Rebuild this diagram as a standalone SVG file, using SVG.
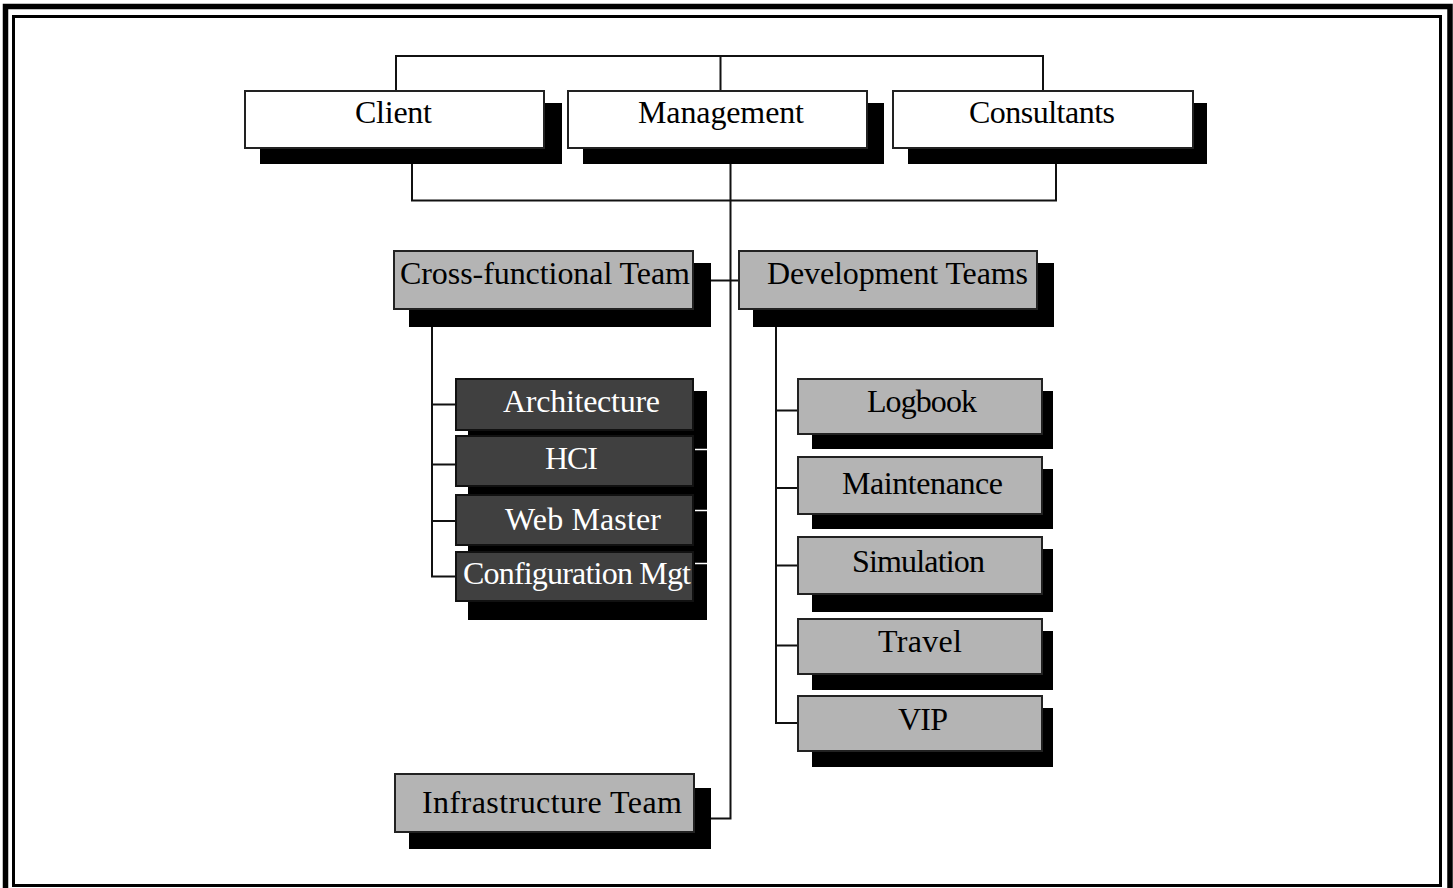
<svg xmlns="http://www.w3.org/2000/svg" width="1453" height="888" viewBox="0 0 1453 888">
<style>
.bg{fill:#ffffff}
.frame{fill:none;stroke:#000;}
.shadow{fill:#000}
.wbox{fill:#ffffff;stroke:#222;stroke-width:2}
.gbox{fill:#b4b4b4;stroke:#222;stroke-width:2}
.dbox{fill:#404040;stroke:#111;stroke-width:2}
.t{font-family:"Liberation Serif","Times New Roman",serif;font-size:32px;fill:#000}
.tw{font-family:"Liberation Serif","Times New Roman",serif;font-size:32px;fill:#fff}
.conn{fill:none;stroke:#111;stroke-width:2}
.tick{stroke:#fff;stroke-width:1.5}
</style>
<rect class="bg" x="0" y="0" width="1453" height="888"/>
<rect class="frame" x="5.5" y="6.5" width="1444.5" height="890" stroke-width="5.5"/>
<rect class="frame" x="13.5" y="16.5" width="1427" height="869" stroke-width="3"/>

<g id="connectors">
<path class="conn" d="M396,90 V56 H1043 V90 M720.5,56 V90"/>
<path class="conn" d="M412,164 V200.5 H1056 V164"/>
<path class="conn" d="M730.5,164 V818.5 H711"/>
<path class="conn" d="M711,280.5 H738"/>
<path class="conn" d="M432,327 V576.5 H455 M432,404.5 H455 M432,464.5 H455 M432,521 H455"/>
<path class="conn" d="M776,327 V723 H797 M776,410.5 H797 M776,488 H797 M776,565.5 H797 M776,645.5 H797"/>
</g>

<g id="client">
<rect class="shadow" x="260" y="103" width="302" height="61"/>
<rect class="wbox" x="245" y="91" width="299" height="57"/>
<text class="t" x="355" y="123" textLength="77">Client</text>
</g>
<g id="management">
<rect class="shadow" x="583" y="103" width="301" height="61"/>
<rect class="wbox" x="568" y="91" width="299" height="57"/>
<text class="t" x="638" y="123" textLength="166">Management</text>
</g>
<g id="consultants">
<rect class="shadow" x="908" y="103" width="299" height="61"/>
<rect class="wbox" x="893" y="91" width="300" height="57"/>
<text class="t" x="969" y="123" textLength="146">Consultants</text>
</g>

<g id="cross-functional-team">
<rect class="shadow" x="409" y="263" width="302" height="64"/>
<rect class="gbox" x="394" y="251" width="299" height="58"/>
<text class="t" x="400" y="284" textLength="290">Cross-functional Team</text>
</g>
<g id="development-teams">
<rect class="shadow" x="753" y="263" width="301" height="64"/>
<rect class="gbox" x="739" y="251" width="298" height="58"/>
<text class="t" x="767" y="284" textLength="261">Development Teams</text>
</g>

<g id="architecture">
<rect class="shadow" x="468" y="391" width="239" height="59"/>
<rect class="dbox" x="456" y="379" width="237" height="51"/>
<text class="tw" x="503" y="411.5" textLength="157">Architecture</text>
</g>
<g id="hci">
<rect class="shadow" x="468" y="449" width="239" height="59"/>
<rect class="dbox" x="456" y="436" width="237" height="50"/>
<text class="tw" x="545" y="468.5" textLength="53">HCI</text>
</g>
<g id="web-master">
<rect class="shadow" x="468" y="507" width="239" height="58"/>
<rect class="dbox" x="456" y="495" width="237" height="50"/>
<text class="tw" x="505" y="529.5" textLength="156">Web Master</text>
</g>
<g id="configuration-mgt">
<rect class="shadow" x="468" y="564" width="239" height="56"/>
<rect class="dbox" x="456" y="552" width="237" height="49"/>
<text class="tw" x="463" y="583.5" textLength="228">Configuration Mgt</text>
</g>
<g id="stack-ticks">
<line class="tick" x1="695" y1="449.5" x2="707" y2="449.5"/>
<line class="tick" x1="695" y1="510.5" x2="707" y2="510.5"/>
<line class="tick" x1="695" y1="563.5" x2="707" y2="563.5"/>
</g>

<g id="logbook">
<rect class="shadow" x="812" y="391" width="241" height="58"/>
<rect class="gbox" x="798" y="379" width="244" height="55"/>
<text class="t" x="867" y="411.5" textLength="110">Logbook</text>
</g>
<g id="maintenance">
<rect class="shadow" x="812" y="469" width="241" height="60"/>
<rect class="gbox" x="798" y="457" width="244" height="57"/>
<text class="t" x="842" y="494" textLength="161">Maintenance</text>
</g>
<g id="simulation">
<rect class="shadow" x="812" y="549" width="241" height="63"/>
<rect class="gbox" x="798" y="537" width="244" height="57"/>
<text class="t" x="852" y="571.5" textLength="133">Simulation</text>
</g>
<g id="travel">
<rect class="shadow" x="812" y="631" width="241" height="59"/>
<rect class="gbox" x="798" y="619" width="244" height="55"/>
<text class="t" x="878" y="651.5" textLength="84">Travel</text>
</g>
<g id="vip">
<rect class="shadow" x="812" y="708" width="241" height="59"/>
<rect class="gbox" x="798" y="696" width="244" height="55"/>
<text class="t" x="898" y="729.5" textLength="50">VIP</text>
</g>

<g id="infrastructure-team">
<rect class="shadow" x="409" y="788" width="302" height="61"/>
<rect class="gbox" x="395" y="774" width="299" height="58"/>
<text class="t" x="422" y="812.5" textLength="260">Infrastructure Team</text>
</g>
</svg>
